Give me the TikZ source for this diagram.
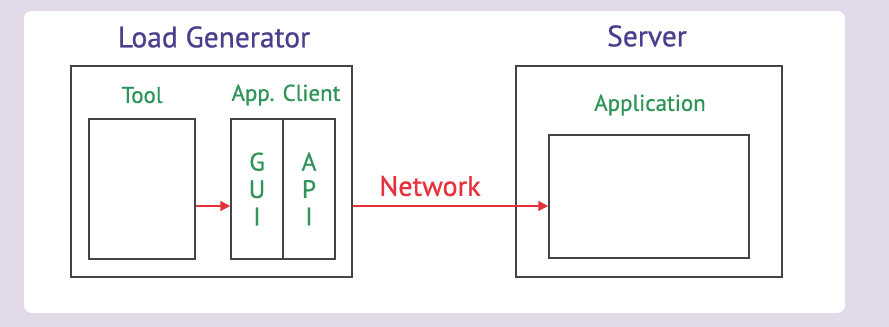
\documentclass[tikz,border=0pt]{standalone}
\usepackage{fontspec}
\setmainfont{PT Sans}
\newfontfamily\dickfont{PT Sans}[FakeBold=0.7]
\usetikzlibrary{arrows.meta, positioning}

\definecolor{lila}{HTML}{E2DAE8}
\definecolor{titelblau}{HTML}{4A3E8E}
\definecolor{gruen}{HTML}{2F9457}
\definecolor{rot}{HTML}{E5323C}
\definecolor{rahmen}{HTML}{444444}

\begin{document}
\begin{tikzpicture}[
	block/.style={draw=rahmen, line width=1.1pt, rectangle, minimum width=#1, minimum height=3.5cm, inner sep=0pt},
	block/.default=2.65cm,
	outer/.style={draw=rahmen, line width=1.1pt, rectangle, minimum height=5.275cm},
	arrow/.style={-{Triangle[length=7pt, width=7pt]}, draw=rot, line width=1.1pt},
	title/.style={font=\dickfont\fontsize{21}{24}\selectfont, text=titelblau},
	label/.style={font=\dickfont\fontsize{16.3}{19}\selectfont, text=gruen},
	letters/.style={font=\dickfont\fontsize{18}{19.5}\selectfont, text=gruen, align=center}
	]
	
	% ======================
	% Hintergrund
	% ======================
	\fill[lila] (0,0) rectangle (22.225,8.175);
	\fill[white, rounded corners=0.2cm] (0.6,0.35) rectangle (21.125,7.9);
	\useasboundingbox (0,0) rectangle (22.225,8.175);
	
	% ======================
	% Load Generator (links)
	% ======================
	\node[title] (tLG) at (5.35,7.25) {Load Generator};
	\node[outer, minimum width=7.025cm] (LG) at (5.2875,3.8875) {};
	
	\node[label] (tTool) at (3.55,5.8) {Tool};
	\node[block] (Tool) at (3.55,3.45) {};
	
	\node[label] (tClient) at (7.15,5.8) {App. Client};
	\node[block=1.3cm] (GUI) at (6.425,3.45) {};
	\node[block=1.3cm] (API) at (7.725,3.45) {};
	
	\node[letters] (lGUI) at (GUI.center) {G\\U\\I};
	\node[letters] (lAPI) at (API.center) {A\\P\\I};
	
	\draw[arrow] ([yshift=-0.425cm]Tool.east) -- ([yshift=-0.425cm]GUI.west);
	
	% ======================
	% Server (rechts)
	% ======================
	\node[title] (tServer) at (16.175,7.275) {Server};
	\node[outer, minimum width=6.65cm] (S) at (16.225,3.8875) {};
	
	\node[label] (tApp) at (16.25,5.55) {Application};
	\node[block=5cm, minimum height=3.075cm] (App) at (16.225,3.2625) {};
	
	% Netzwerkverbindung
	\draw[arrow] ([yshift=-0.8625cm]LG.east) -- ([yshift=-0.2375cm]App.west);
	\node[font=\dickfont\fontsize{20}{23}\selectfont, text=rot] (tNet) at (10.75,3.525) {Network};
	
\end{tikzpicture}
\end{document}
